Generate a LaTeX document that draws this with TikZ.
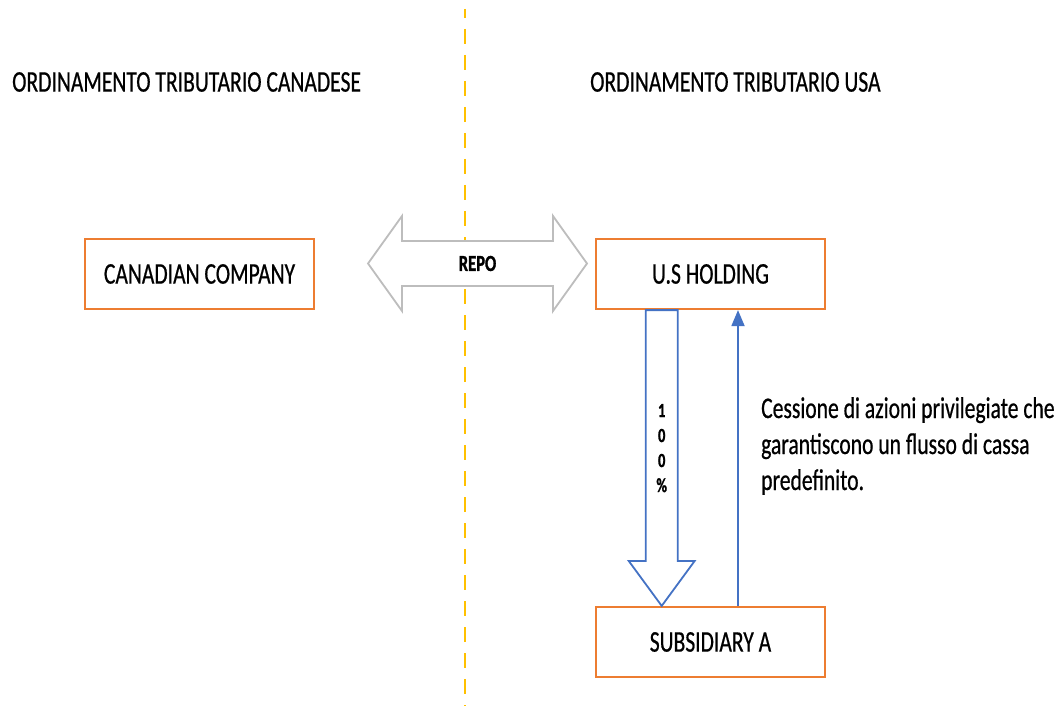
\documentclass[tikz,border=0pt]{standalone}
\usepackage{fontspec}
\setmainfont[FakeStretch=0.72,FakeBold=0.6,BoldFeatures={FakeBold=1.2}]{Carlito}
\usetikzlibrary{calc,arrows.meta}
\definecolor{boxorange}{HTML}{ED7D31}
\definecolor{flowblue}{HTML}{4472C4}
\definecolor{repogray}{HTML}{BDBDBD}
\definecolor{borderyellow}{HTML}{FFC000}
\begin{document}
\begin{tikzpicture}[x=1pt,y=-1pt,
  entity/.style={draw=boxorange,line width=2.2pt,fill=white,minimum width=229pt,minimum height=70pt,inner sep=0pt,
    font=\fontsize{30}{36}\selectfont},
  heading/.style={anchor=west,inner sep=0pt,font=\fontsize{30}{36}\selectfont},
  note/.style={anchor=west,inner sep=0pt,align=left,font=\fontsize{30}{36}\selectfont},
  blockarrow/.style={draw=flowblue,line width=1.8pt,fill=white,line join=miter},
  repoarrow/.style={draw=repogray,line width=1.8pt,fill=white,line join=miter}]
\useasboundingbox (0,0) rectangle (1061,706);
% border between the two tax systems
\draw[borderyellow,line width=2.2pt,dash pattern=on 15pt off 11pt,dash phase=6pt] (465,9) -- (465,706);
% headings
\node[heading] (hca) at (12,82) {ORDINAMENTO TRIBUTARIO CANADESE};
\node[heading] (hus) at (590,82) {ORDINAMENTO TRIBUTARIO USA};
% entities
\node[entity] (cc) at (199.5,274) {CANADIAN COMPANY};
\node[entity] (ush) at (710.5,274) {U.S HOLDING};
\node[entity] (sub) at (710.5,642) {SUBSIDIARY A};
% repo double arrow
\coordinate (rl) at (368,263.5);
\coordinate (rr) at (587,263.5);
\draw[repoarrow] (rl) -- ++(34,-47.5) -- ++(0,25) -- ($(rr)+(-34,-22.5)$) -- ++(0,-25) -- (rr)
  -- ++(-34,47.5) -- ++(0,-25) -- ($(rl)+(34,22.5)$) -- ++(0,25) -- cycle;
\node[inner sep=0pt,font=\fontsize{23}{26}\selectfont\bfseries] (repo) at ($(rl)!0.5!(rr)$) {REPO};
% 100% ownership block arrow
\coordinate (dtop) at ($(ush.south)+(-48.8,0)$);
\coordinate (dtip) at ($(sub.north)+(-48.8,0)$);
\draw[blockarrow] ($(dtop)+(-16,0)$) -- ($(dtip)+(-16,-45)$) -- ($(dtip)+(-33,-45)$) -- (dtip)
  -- ($(dtip)+(33,-45)$) -- ($(dtip)+(16,-45)$) -- ($(dtop)+(16,0)$) -- cycle;
\node[inner sep=0pt,align=center,font=\fontsize{20}{25}\selectfont\bfseries] (pct) at ($(dtop)+(0,138)$) {1\\0\\0\\\%};
% transfer of preferred shares
\coordinate (uf) at ($(sub.north)+(27.5,0)$);
\coordinate (ut) at ($(ush.south)+(27.5,0)$);
\draw[flowblue,line width=1.8pt,-{Triangle[length=16pt,width=13pt]}] (uf) -- (ut);
\node[note] (txt) at (761,446) {Cessione di azioni privilegiate che\\garantiscono un flusso di cassa\\predefinito.};
\end{tikzpicture}
\end{document}
